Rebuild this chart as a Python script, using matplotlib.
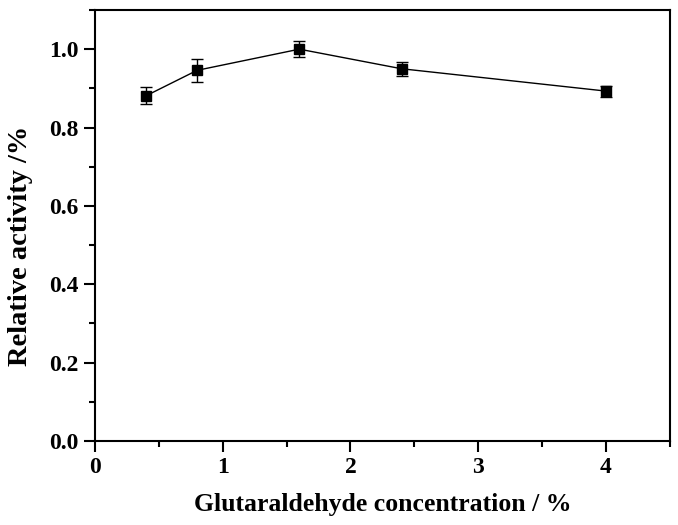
import matplotlib
matplotlib.use("Agg")
import matplotlib.pyplot as plt
from matplotlib.ticker import MultipleLocator

# glutaraldehyde concentration (%) vs relative activity
conc = [0.4, 0.8, 1.6, 2.4, 4.0]
activity = [0.881, 0.946, 1.000, 0.950, 0.893]
err = [0.022, 0.030, 0.021, 0.018, 0.014]

plt.rcParams['font.family'] = ['Liberation Serif', 'DejaVu Serif']
plt.rcParams['font.weight'] = 'bold'

fig = plt.figure(figsize=(6.78, 5.25), dpi=100)
ax = fig.add_axes([0.140, 0.160, 0.848, 0.821])

ax.errorbar(conc, activity, yerr=err, color='black', marker='s', markersize=7.5,
            linewidth=1, elinewidth=1, capsize=4, capthick=1)

ax.set_xlim(0, 4.5)
ax.set_ylim(0, 1.1)
ax.xaxis.set_major_locator(MultipleLocator(1))
ax.xaxis.set_minor_locator(MultipleLocator(0.5))
ax.yaxis.set_major_locator(MultipleLocator(0.2))
ax.yaxis.set_minor_locator(MultipleLocator(0.1))
ax.yaxis.set_major_formatter(matplotlib.ticker.FormatStrFormatter('%.1f'))

ax.tick_params(which='both', direction='out', width=1.5, labelsize=17)
ax.tick_params(which='major', length=8)
ax.tick_params(which='minor', length=4.5)
for s in ax.spines.values():
    s.set_linewidth(1.5)

ax.set_xlabel('Glutaraldehyde concentration / %', fontsize=18.5, fontweight='bold', labelpad=11)
ax.set_ylabel('Relative activity /%', fontsize=20.5, fontweight='bold')
ax.yaxis.set_label_coords(-0.108, 0.452)

fig.savefig('out.png', dpi=100)
